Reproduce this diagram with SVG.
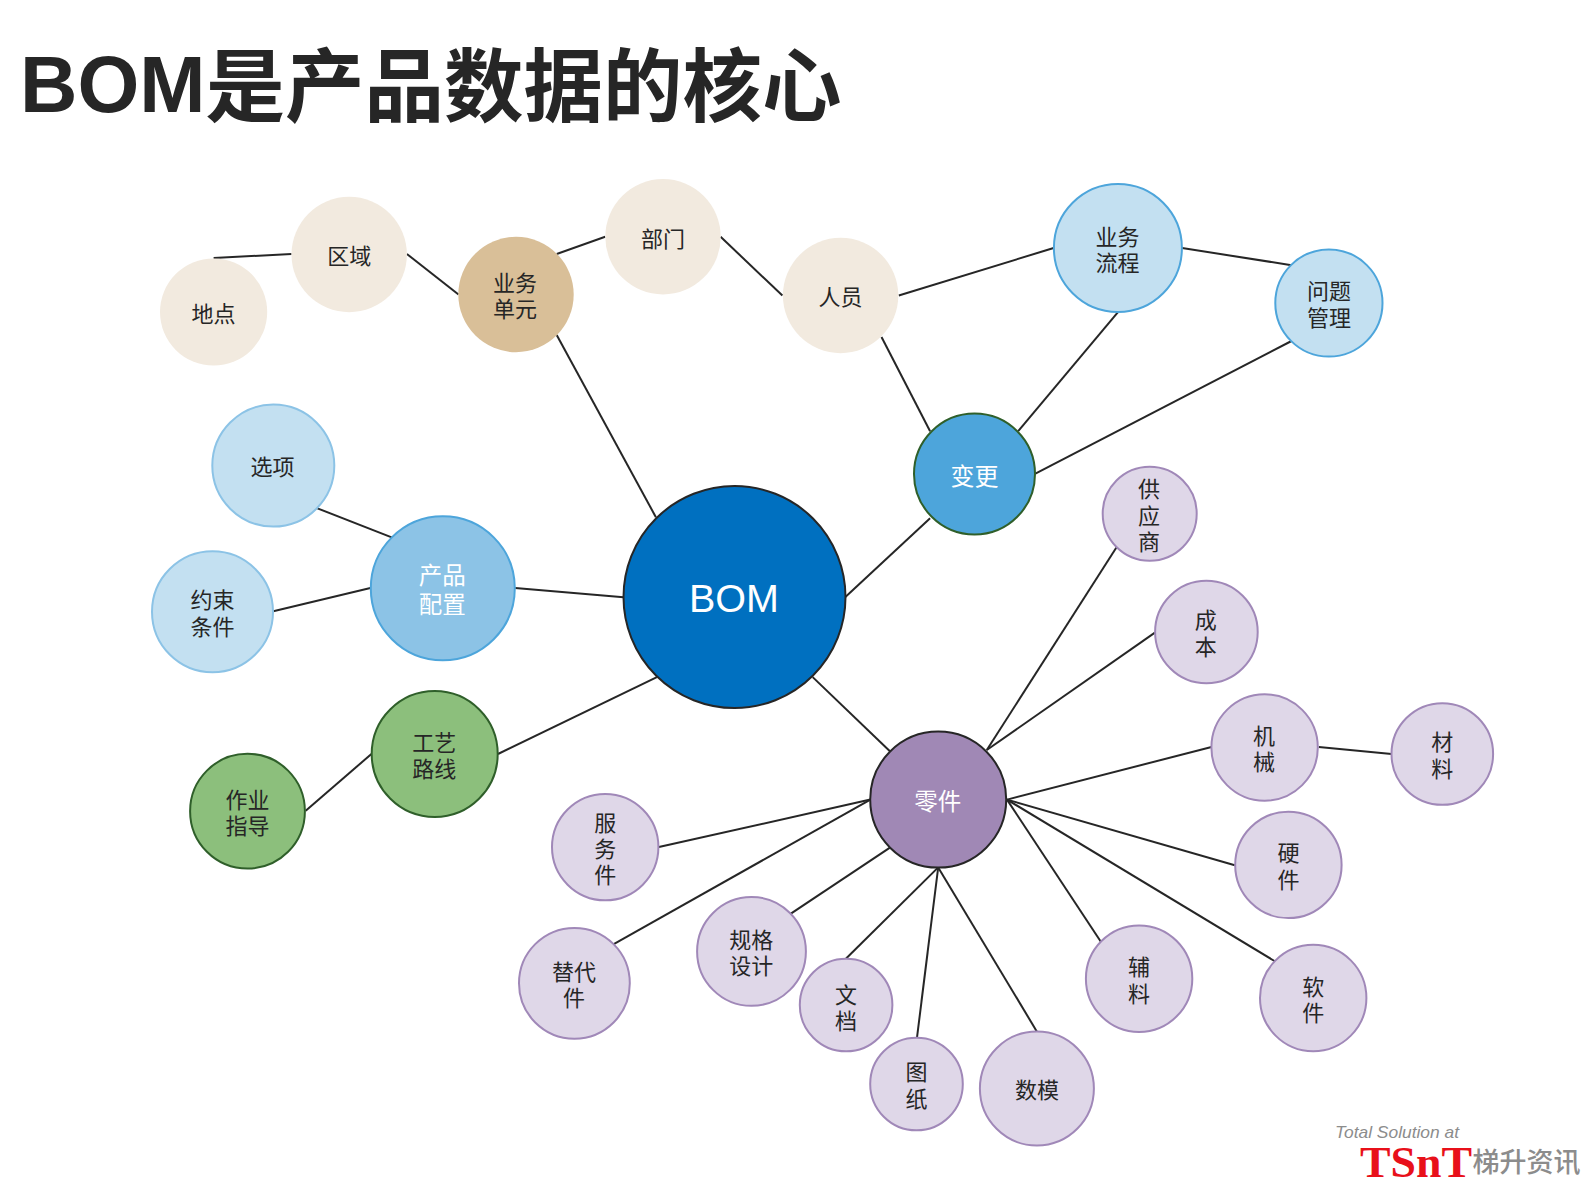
<svg xmlns="http://www.w3.org/2000/svg" width="1587" height="1190" viewBox="0 0 1587 1190">
<style>
text{font-family:"Noto Sans CJK SC","Liberation Sans",sans-serif;font-size:22px;fill:#262626;text-anchor:middle}
.w{fill:#fff;font-size:23.5px}
.cream{fill:#F2EADF}
.tan{fill:#D9BF98}
.lb{fill:#C3E0F1;stroke:#4DA5DB;stroke-width:2}
.lb2{fill:#C3E0F1;stroke:#8CC3E6;stroke-width:2}
.mb{fill:#8CC3E6;stroke:#4DA5DB;stroke-width:2}
.gr{fill:#8CBF7C;stroke:#2F5F2A;stroke-width:2}
.lp{fill:#DFD7E8;stroke:#A088B8;stroke-width:2}
#connectors line{stroke:#262626;stroke-width:2}
</style>
<rect width="1587" height="1190" fill="#fff"/>
<text id="title" x="20" y="112" style="font-family:'Liberation Sans','Noto Sans CJK SC',sans-serif;font-size:79.5px;font-weight:bold;text-anchor:start">BOM<tspan dy="3">是产品数据的核心</tspan></text>
<g id="connectors">
<line x1="213.6" y1="258.1" x2="291.5" y2="254"/>
<line x1="406.9" y1="254" x2="458.5" y2="294.5"/>
<line x1="556.7" y1="254" x2="605.2" y2="236.8"/>
<line x1="720.6" y1="236.8" x2="782.4" y2="295.5"/>
<line x1="898.8" y1="295.5" x2="1053.6" y2="248"/>
<line x1="1182.1" y1="248" x2="1291.5" y2="265.2"/>
<line x1="1118.4" y1="311.7" x2="1018.2" y2="431.2"/>
<line x1="1291.5" y1="341" x2="1035.4" y2="473.7"/>
<line x1="881.5" y1="337" x2="930.1" y2="431.2"/>
<line x1="556.7" y1="335" x2="655.9" y2="517.2"/>
<line x1="845.1" y1="597.2" x2="930.1" y2="518.2"/>
<line x1="316.8" y1="508.1" x2="391.7" y2="537.4"/>
<line x1="273.3" y1="611.3" x2="370.4" y2="588"/>
<line x1="515.2" y1="588" x2="623.5" y2="597.2"/>
<line x1="498" y1="754" x2="656.9" y2="677.1"/>
<line x1="305.7" y1="810.7" x2="371.4" y2="754"/>
<line x1="812.7" y1="677.1" x2="890.7" y2="752"/>
<line x1="986.8" y1="750" x2="1116.4" y2="547.5"/>
<line x1="986.8" y1="750" x2="1154.9" y2="632.6"/>
<line x1="1007" y1="799.6" x2="1211.5" y2="747"/>
<line x1="1318.8" y1="747" x2="1391.6" y2="754"/>
<line x1="1007" y1="799.6" x2="1234.8" y2="865.3"/>
<line x1="1007" y1="799.6" x2="1275.3" y2="961.5"/>
<line x1="1007" y1="799.6" x2="1101.2" y2="942.3"/>
<line x1="938.2" y1="867.4" x2="1037.4" y2="1032.4"/>
<line x1="938.2" y1="867.4" x2="917" y2="1037.4"/>
<line x1="938.2" y1="867.4" x2="846.1" y2="958.5"/>
<line x1="890.7" y1="847.1" x2="790.5" y2="913.9"/>
<line x1="870.4" y1="799.6" x2="613.3" y2="944.3"/>
<line x1="870.4" y1="799.6" x2="658.9" y2="847.1"/>
</g>
<g id="n-didian"><circle class="cream" cx="213.6" cy="312" r="53.6"/><text x="213.6" y="322">地点</text></g>
<g id="n-quyu"><circle class="cream" cx="349.2" cy="254.5" r="57.7"/><text x="349.2" y="264">区域</text></g>
<g id="n-yewudanyuan"><circle class="tan" cx="516" cy="294.5" r="57.7"/><text x="515" y="290.5">业务</text><text x="515" y="317">单元</text></g>
<g id="n-bumen"><circle class="cream" cx="663" cy="236.8" r="57.7"/><text x="663" y="246.5">部门</text></g>
<g id="n-renyuan"><circle class="cream" cx="840.6" cy="295.5" r="57.7"/><text x="840.6" y="305">人员</text></g>
<g id="n-yewuliucheng"><circle class="lb" cx="1117.9" cy="248" r="64"/><text x="1117.4" y="245">业务</text><text x="1117.4" y="271">流程</text></g>
<g id="n-wenti"><circle class="lb" cx="1328.9" cy="303" r="53.6"/><text x="1328.9" y="299">问题</text><text x="1328.9" y="326">管理</text></g>
<g id="n-biangeng"><circle fill="#4DA5DB" stroke="#2F5F2A" stroke-width="2" cx="974.5" cy="474" r="60.5"/><text class="w" x="974.5" y="485" style="font-size:24px">变更</text></g>
<g id="n-xuanxiang"><circle class="lb2" cx="273.3" cy="465.6" r="61"/><text x="272.5" y="475">选项</text></g>
<g id="n-yueshu"><circle class="lb2" cx="212.5" cy="611.8" r="60.5"/><text x="212.5" y="608">约束</text><text x="212.5" y="634.5">条件</text></g>
<g id="n-chanpin"><circle class="mb" cx="442.8" cy="588.3" r="72"/><text class="w" x="442.3" y="584">产品</text><text class="w" x="442.3" y="612.5">配置</text></g>
<g id="n-gongyi"><circle class="gr" cx="434.7" cy="754" r="63"/><text x="434.2" y="751">工艺</text><text x="434.2" y="777">路线</text></g>
<g id="n-zuoye"><circle class="gr" cx="247.5" cy="811.2" r="57.4"/><text x="247.5" y="808">作业</text><text x="247.5" y="834">指导</text></g>
<g id="n-bom"><circle fill="#0070C0" stroke="#262626" stroke-width="2" cx="734.5" cy="597" r="111"/><text class="w" x="734" y="612" style="font-family:'Liberation Sans',sans-serif;font-size:39.5px">BOM</text></g>
<g id="n-lingjian"><circle fill="#A088B5" stroke="#262626" stroke-width="2" cx="938.2" cy="799.6" r="68"/><text class="w" x="937.7" y="810">零件</text></g>
<g id="n-gongying"><circle class="lp" cx="1149.7" cy="513.7" r="47"/><text x="1149" y="497">供</text><text x="1149" y="524">应</text><text x="1149" y="550">商</text></g>
<g id="n-chengben"><circle class="lp" cx="1206.4" cy="632" r="51.3"/><text x="1205.8" y="628">成</text><text x="1205.8" y="654.5">本</text></g>
<g id="n-jixie"><circle class="lp" cx="1264.6" cy="747.5" r="53.2"/><text x="1264" y="744">机</text><text x="1264" y="770">械</text></g>
<g id="n-cailiao"><circle class="lp" cx="1442.3" cy="754" r="50.8"/><text x="1442.3" y="750">材</text><text x="1442.3" y="777">料</text></g>
<g id="n-yingjian"><circle class="lp" cx="1288.4" cy="864.9" r="53.2"/><text x="1288.4" y="861">硬</text><text x="1288.4" y="888">件</text></g>
<g id="n-ruanjian"><circle class="lp" cx="1313.2" cy="998" r="53.2"/><text x="1313.2" y="995">软</text><text x="1313.2" y="1021">件</text></g>
<g id="n-fuliao"><circle class="lp" cx="1139.1" cy="978.7" r="53.2"/><text x="1139.1" y="975">辅</text><text x="1139.1" y="1002">料</text></g>
<g id="n-shumo"><circle class="lp" cx="1036.9" cy="1088.5" r="57"/><text x="1036.9" y="1098">数模</text></g>
<g id="n-tuzhi"><circle class="lp" cx="916.5" cy="1084" r="46.3"/><text x="916.5" y="1080">图</text><text x="916.5" y="1107">纸</text></g>
<g id="n-wendang"><circle class="lp" cx="846.1" cy="1005" r="46.3"/><text x="846.1" y="1002.5">文</text><text x="846.1" y="1028.5">档</text></g>
<g id="n-guige"><circle class="lp" cx="751.5" cy="951.4" r="54.4"/><text x="751.2" y="948">规格</text><text x="751.2" y="974">设计</text></g>
<g id="n-tidai"><circle class="lp" cx="574.4" cy="983.3" r="55.4"/><text x="574" y="980">替代</text><text x="574" y="1006">件</text></g>
<g id="n-fuwu"><circle class="lp" cx="605.2" cy="847.1" r="53.2"/><text x="605.2" y="830.5">服</text><text x="605.2" y="857">务</text><text x="605.2" y="883">件</text></g>
<g id="logo">
<text x="1335" y="1138" textLength="124" lengthAdjust="spacingAndGlyphs" style="font-family:'Liberation Sans',sans-serif;font-size:17px;font-style:italic;fill:#8C8C8C;text-anchor:start">Total Solution at</text>
<text x="1360" y="1177" textLength="112" lengthAdjust="spacingAndGlyphs" style="font-family:'Liberation Serif',serif;font-size:45px;font-weight:bold;fill:#E8101A;text-anchor:start">TSnT</text>
<text x="1472.5" y="1172" style="font-size:27px;font-weight:500;fill:#8C8C8C;text-anchor:start">梯升资讯</text>
</g>
</svg>
